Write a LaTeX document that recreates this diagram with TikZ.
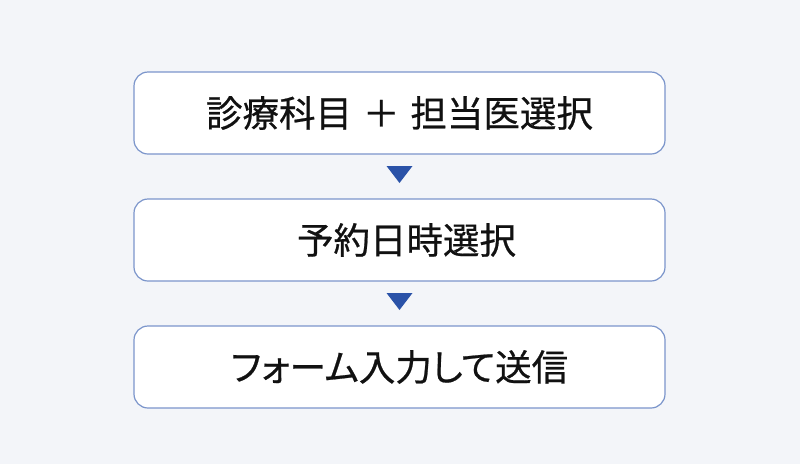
\documentclass[tikz,border=0pt]{standalone}
\usepackage{fontspec}
\newfontfamily\cjk[FakeBold=0.6]{Noto Sans CJK JP}
\newfontfamily\cjkp[FakeBold=0.6,RawFeature=+palt]{Noto Sans CJK JP}
\definecolor{bg}{HTML}{F3F5F9}
\definecolor{bordc}{HTML}{7B95CB}
\definecolor{arrc}{HTML}{2A52A8}
\definecolor{txtc}{HTML}{111111}
\tikzset{
  stepbox/.style={draw=bordc, line width=1.2pt, fill=white, rounded corners=14pt,
    minimum width=531pt, minimum height=82pt, inner sep=0pt, outer sep=0pt,
    font=\cjk\fontsize{36.5pt}{42pt}\selectfont, text=txtc},
  tri/.style={fill=arrc, draw=none}
}
\begin{document}
\begin{tikzpicture}[x=1pt,y=-1pt]
\fill[bg] (0,0) rectangle (800,464);
\useasboundingbox (0,0) rectangle (800,464);
\node[stepbox] (b1) at (399.5,113) {診療科目\hspace{0.3em}＋\hspace{0.3em}担当医選択};
\node[stepbox] (b2) at (399.5,240) {\hspace*{14pt}予約日時選択};
\node[stepbox] (b3) at (399.5,367) {\cjkp\fontsize{36.5pt}{42pt}\selectfont フォーム入力して送信};
\path[tri] (b1.south) ++(-13,12) -- ++(26,0) -- ++(-13,17) -- cycle;
\path[tri] (b2.south) ++(-13,12) -- ++(26,0) -- ++(-13,17) -- cycle;
\end{tikzpicture}
\end{document}
